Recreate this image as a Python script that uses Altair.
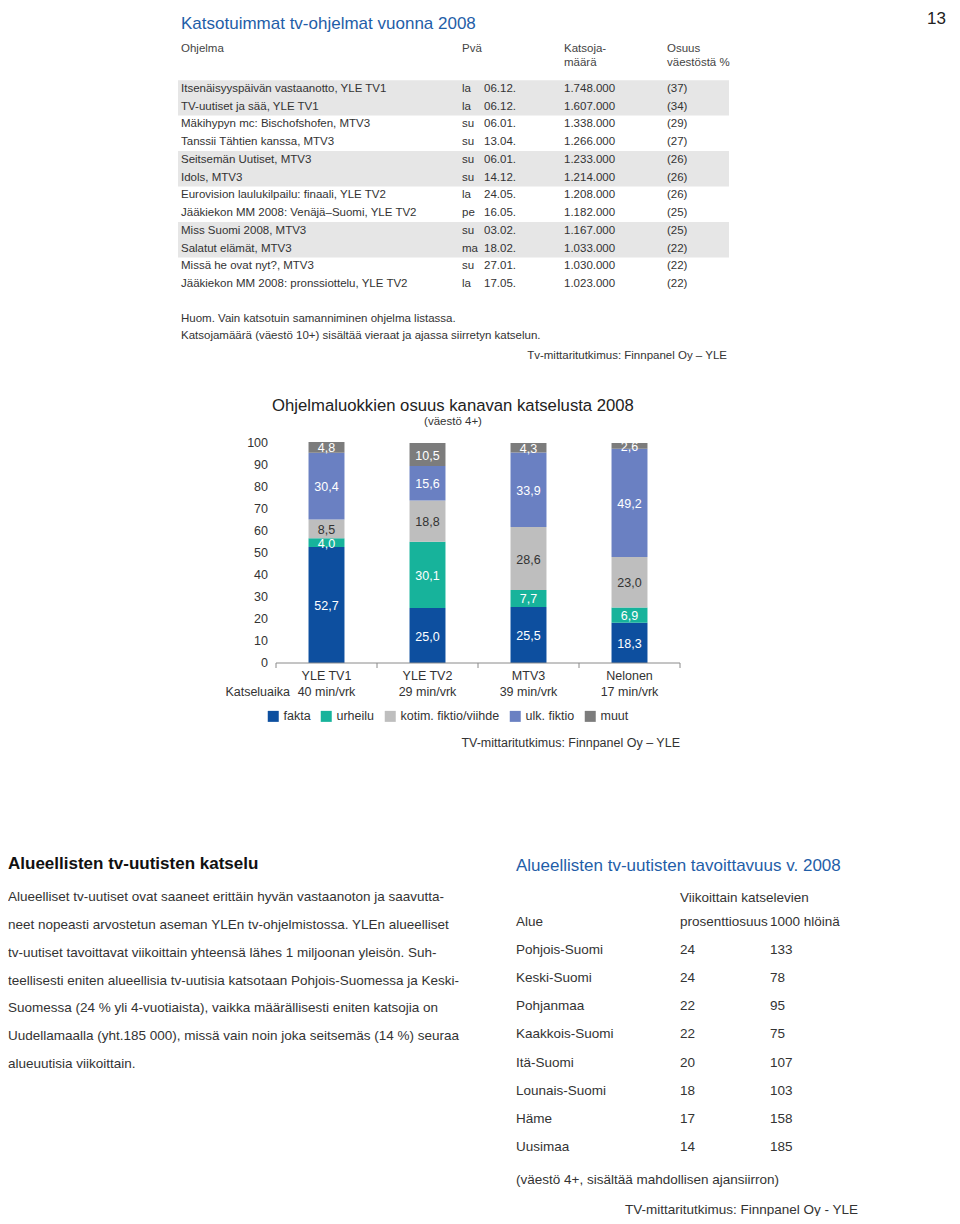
import altair as alt
import pandas as pd

# ---------------- data ----------------
programs = [
    "Itsenäisyyspäivän vastaanotto, YLE TV1",
    "TV-uutiset ja sää, YLE TV1",
    "Mäkihypyn mc: Bischofshofen, MTV3",
    "Tanssii Tähtien kanssa, MTV3",
    "Seitsemän Uutiset, MTV3",
    "Idols, MTV3",
    "Eurovision laulukilpailu: finaali, YLE TV2",
    "Jääkiekon MM 2008: Venäjä–Suomi, YLE TV2",
    "Miss Suomi 2008, MTV3",
    "Salatut elämät, MTV3",
    "Missä he ovat nyt?, MTV3",
    "Jääkiekon MM 2008: pronssiottelu, YLE TV2",
]
days = ["la", "la", "su", "su", "su", "su", "la", "pe", "su", "ma", "su", "la"]
dates = ["06.12.", "06.12.", "06.01.", "13.04.", "06.01.", "14.12.",
         "24.05.", "16.05.", "03.02.", "18.02.", "27.01.", "17.05."]
viewers = [1748000, 1607000, 1338000, 1266000, 1233000, 1214000,
           1208000, 1182000, 1167000, 1033000, 1030000, 1023000]
shares = [37, 34, 29, 27, 26, 26, 26, 25, 25, 22, 22, 22]
stripe_starts = [0, 4, 8]  # shaded pairs of rows

channels = ["YLE TV1", "YLE TV2", "MTV3", "Nelonen"]
minutes = [40, 29, 39, 17]
categories = ["fakta", "urheilu", "kotim. fiktio/viihde", "ulk. fiktio", "muut"]
fakta = [52.7, 25.0, 25.5, 18.3]
urheilu = [4.0, 30.1, 7.7, 6.9]
kotim = [8.5, 18.8, 28.6, 23.0]
ulk = [30.4, 15.6, 33.9, 49.2]
muut = [4.8, 10.5, 4.3, 2.6]
y_ticks = [0, 10, 20, 30, 40, 50, 60, 70, 80, 90, 100]

paragraph = [
    "Alueelliset tv-uutiset ovat saaneet erittäin hyvän vastaanoton ja saavutta-",
    "neet nopeasti arvostetun aseman YLEn tv-ohjelmistossa. YLEn alueelliset",
    "tv-uutiset tavoittavat viikoittain yhteensä lähes 1 miljoonan yleisön. Suh-",
    "teellisesti eniten alueellisia tv-uutisia katsotaan Pohjois-Suomessa ja Keski-",
    "Suomessa (24 % yli 4-vuotiaista), vaikka määrällisesti eniten katsojia on",
    "Uudellamaalla (yht.185 000), missä vain noin joka seitsemäs (14 %) seuraa",
    "alueuutisia viikoittain.",
]
regions = ["Pohjois-Suomi", "Keski-Suomi", "Pohjanmaa", "Kaakkois-Suomi",
           "Itä-Suomi", "Lounais-Suomi", "Häme", "Uusimaa"]
region_pct = [24, 24, 22, 22, 20, 18, 17, 14]
region_k = [133, 78, 95, 75, 107, 103, 158, 185]

# ---------------- styling ----------------
FONT = "Liberation Sans"
TXT = "#333333"
HEAD = "#444444"
BLUE = "#1f5ea8"
COLORS = ["#0d4f9f", "#17b39b", "#bebebe", "#6a80c2", "#7c7c7c"]

one = pd.DataFrame({"k": [0]})


def label(text, x, y, size=11.5, color=TXT, align="left", weight="normal"):
    return alt.Chart(one).mark_text(
        text=text, align=align, baseline="middle", font=FONT,
        fontSize=size, color=color, fontWeight=weight,
    ).encode(x=alt.value(x), y=alt.value(y))


layers = []

# ---------------- top table ----------------
layers.append(label("13", 938, 11, size=17, color="#222222", align="right"))
layers.append(label("Katsotuimmat tv-ohjelmat vuonna 2008", 173, 16, size=17, color=BLUE))
layers.append(label("Ohjelma", 173, 41, color=HEAD))
layers.append(label("Pvä", 454, 41, color=HEAD))
layers.append(label("Katsoja-", 556, 41, color=HEAD))
layers.append(label("määrä", 556, 55, color=HEAD))
layers.append(label("Osuus", 659, 41, color=HEAD))
layers.append(label("väestöstä %", 659, 55, color=HEAD))

n_rows = len(programs)
row_scale = alt.Scale(domain=[0, n_rows - 1], range=[81, 276], nice=False, zero=False)
stripes = pd.DataFrame({"r0": [s - 0.5 for s in stripe_starts],
                        "r1": [s + 1.5 for s in stripe_starts]})
layers.append(alt.Chart(stripes).mark_rect(color="#e6e6e6").encode(
    x=alt.value(170), x2=alt.value(721),
    y=alt.Y("r0:Q", scale=row_scale, axis=None), y2="r1:Q"))

tbl = pd.DataFrame({
    "row": list(range(n_rows)),
    "program": programs,
    "day": days,
    "date": dates,
    "viewers": [f"{v:,}".replace(",", ".") for v in viewers],
    "share": [f"({s})" for s in shares],
})
for field, x in [("program", 173), ("day", 454), ("date", 476), ("viewers", 556), ("share", 659)]:
    layers.append(alt.Chart(tbl).mark_text(
        align="left", baseline="middle", font=FONT, fontSize=11.5, color=TXT
    ).encode(x=alt.value(x), y=alt.Y("row:Q", scale=row_scale, axis=None), text=f"{field}:N"))

layers.append(label("Huom. Vain katsotuin samanniminen ohjelma listassa.", 173, 311))
layers.append(label("Katsojamäärä (väestö 10+) sisältää vieraat ja ajassa siirretyn katselun.", 173, 328))
layers.append(label("Tv-mittaritutkimus: Finnpanel Oy – YLE", 719, 348, align="right"))

# ---------------- stacked bar chart ----------------
layers.append(label("Ohjelmaluokkien osuus kanavan katselusta 2008", 445, 398, size=16.7, color="#222222", align="center"))
layers.append(label("(väestö 4+)", 445, 414, size=11.5, color=TXT, align="center"))

recs = []
for i, ch in enumerate(channels):
    base = 0.0
    for cat, vals in zip(categories, [fakta, urheilu, kotim, ulk, muut]):
        v = vals[i]
        recs.append({"channel": ch, "cat": cat, "start": base, "end": base + v,
                     "mid": base + v / 2, "label": f"{v:.1f}".replace(".", ",")})
        base += v
bars = pd.DataFrame(recs)

xband = alt.X("channel:N", scale=alt.Scale(domain=channels, range=[268, 672],
                                            paddingInner=0.644, paddingOuter=0.322), axis=None)
ybar = alt.Scale(domain=[0, 100], range=[655, 435], nice=False, zero=False)

layers.append(alt.Chart(bars).mark_bar().encode(
    x=xband,
    y=alt.Y("start:Q", scale=ybar, axis=None),
    y2="end:Q",
    color=alt.Color("cat:N", scale=alt.Scale(domain=categories, range=COLORS),
                    legend=alt.Legend(orient="none", legendX=259, legendY=702,
                                      direction="horizontal", title=None,
                                      symbolType="square", symbolSize=121,
                                      symbolStrokeWidth=0, labelFont=FONT,
                                      labelFontSize=12.5, labelColor=TXT,
                                      columnPadding=9, labelOffset=4)),
))
layers.append(alt.Chart(bars).mark_text(baseline="middle", font=FONT, fontSize=12.5, dy=1).encode(
    x=xband,
    y=alt.Y("mid:Q", scale=ybar, axis=None),
    text="label:N",
    color=alt.condition(alt.datum.cat == "kotim. fiktio/viihde", alt.value("#333333"), alt.value("white")),
))

ticks_df = pd.DataFrame({"t": y_ticks})
layers.append(alt.Chart(ticks_df).mark_text(align="right", baseline="middle", font=FONT,
                                             fontSize=12.5, color=TXT).encode(
    x=alt.value(260), y=alt.Y("t:Q", scale=ybar, axis=None), text="t:Q"))

layers.append(alt.Chart(pd.DataFrame({"v": [0]})).mark_rule(color="#8a8a8a", strokeWidth=1).encode(
    x=alt.value(268), x2=alt.value(672), y=alt.Y("v:Q", scale=ybar, axis=None)))
layers.append(alt.Chart(pd.DataFrame({"b": list(range(len(channels) + 1))})).mark_rule(
    color="#8a8a8a", strokeWidth=1).encode(
    x=alt.X("b:Q", scale=alt.Scale(domain=[0, len(channels)], range=[268, 672], nice=False, zero=False), axis=None),
    y=alt.value(655), y2=alt.value(660)))

cats_df = pd.DataFrame({"channel": channels, "mins": [f"{m} min/vrk" for m in minutes]})
layers.append(alt.Chart(cats_df).mark_text(baseline="middle", font=FONT, fontSize=12.5, color=TXT).encode(
    x=xband, y=alt.value(668), text="channel:N"))
layers.append(alt.Chart(cats_df).mark_text(baseline="middle", font=FONT, fontSize=12.5, color=TXT).encode(
    x=xband, y=alt.value(684), text="mins:N"))
layers.append(label("Katseluaika", 282, 684, size=12.5, align="right"))
layers.append(label("TV-mittaritutkimus: Finnpanel Oy – YLE", 672, 735, size=12.5, align="right"))

# ---------------- bottom left: text ----------------
layers.append(label("Alueellisten tv-uutisten katselu", 0, 856, size=17, color="#111111", weight="bold"))
para = pd.DataFrame({"line": list(range(len(paragraph))), "text": paragraph})
layers.append(alt.Chart(para).mark_text(align="left", baseline="middle", font=FONT,
                                         fontSize=13.5, color=TXT).encode(
    x=alt.value(0),
    y=alt.Y("line:Q", scale=alt.Scale(domain=[0, len(paragraph) - 1], range=[889, 1056], nice=False, zero=False), axis=None),
    text="text:N"))

# ---------------- bottom right: regional table ----------------
layers.append(label("Alueellisten tv-uutisten tavoittavuus v. 2008", 508, 858, size=17, color=BLUE))
layers.append(label("Viikoittain katselevien", 672, 890, size=13.5))
layers.append(label("Alue", 508, 914, size=13.5))
layers.append(label("prosenttiosuus", 672, 914, size=13.5))
layers.append(label("1000 hlöinä", 762, 914, size=13.5))

reg = pd.DataFrame({"row": list(range(len(regions))), "region": regions,
                    "pct": [str(p) for p in region_pct], "k": [str(k) for k in region_k]})
reg_scale = alt.Scale(domain=[0, len(regions) - 1], range=[942, 1139], nice=False, zero=False)
for field, x in [("region", 508), ("pct", 672), ("k", 762)]:
    layers.append(alt.Chart(reg).mark_text(align="left", baseline="middle", font=FONT,
                                            fontSize=13.5, color=TXT).encode(
        x=alt.value(x), y=alt.Y("row:Q", scale=reg_scale, axis=None), text=f"{field}:N"))

layers.append(label("(väestö 4+, sisältää mahdollisen ajansiirron)", 508, 1172, size=13.5))
layers.append(label("TV-mittaritutkimus: Finnpanel Oy - YLE", 850, 1202, size=13.5, align="right"))

chart = alt.layer(*layers).resolve_scale(
    x="independent", y="independent", color="independent"
).properties(
    width=944, height=1208, autosize=alt.AutoSizeParams(type="none"), padding=0,
    background="white",
).configure_view(stroke=None)

chart.save("out.html", embed_options={"renderer": "svg", "actions": False})
